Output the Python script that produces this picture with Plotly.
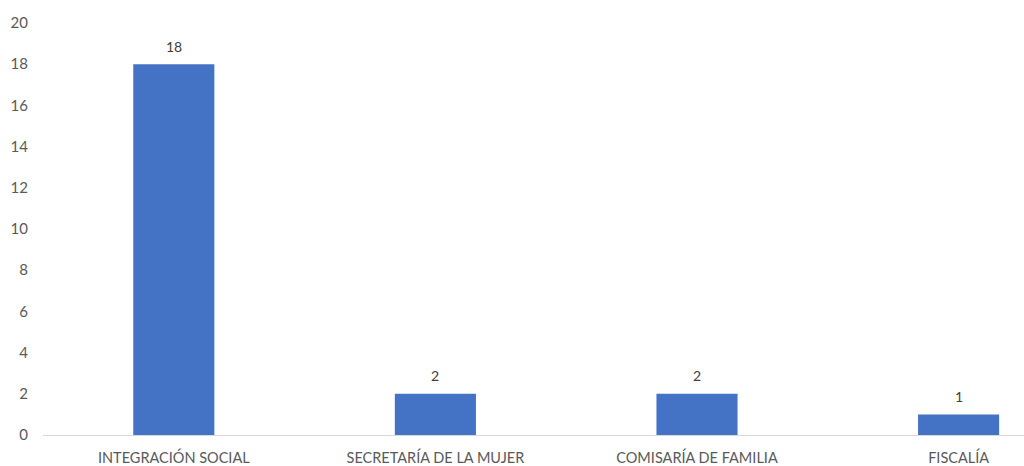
import plotly.graph_objects as go

categories = ["INTEGRACIÓN SOCIAL", "SECRETARÍA DE LA MUJER", "COMISARÍA DE FAMILIA", "FISCALÍA"]
values = [18, 2, 2, 1]
y_ticks = [0, 2, 4, 6, 8, 10, 12, 14, 16, 18, 20]

fig = go.Figure(go.Bar(
    x=categories, y=values,
    marker=dict(color="#4472C4", line=dict(width=0)),
    width=0.31, hoverinfo="x+y",
))

for c, v in zip(categories, values):
    fig.add_annotation(
        x=c, y=v, text=str(v), showarrow=False, yanchor="middle", yshift=18,
        font=dict(family="Lato", size=14, color="#404040"),
    )

fig.update_layout(
    width=1024, height=466,
    margin=dict(l=43, r=0, t=23, b=29),
    paper_bgcolor="white", plot_bgcolor="white",
    showlegend=False,
    font=dict(family="Lato", color="#595959"),
    xaxis=dict(
        range=[-0.5, 3.25], showgrid=False, showline=True, linecolor="#D9D9D9", linewidth=1,
        ticks="", tickfont=dict(size=14.5, color="#595959"), ticklabelstandoff=10,
    ),
    yaxis=dict(
        range=[0, 20], tickvals=y_ticks, showgrid=False, zeroline=False, showline=False,
        ticks="", tickfont=dict(size=15, color="#595959"), ticklabelstandoff=14,
    ),
)

fig.write_html(
    "out.html",
    config={"displayModeBar": False},
    post_script="document.body.style.margin='0';document.body.style.overflow='hidden';",
)
